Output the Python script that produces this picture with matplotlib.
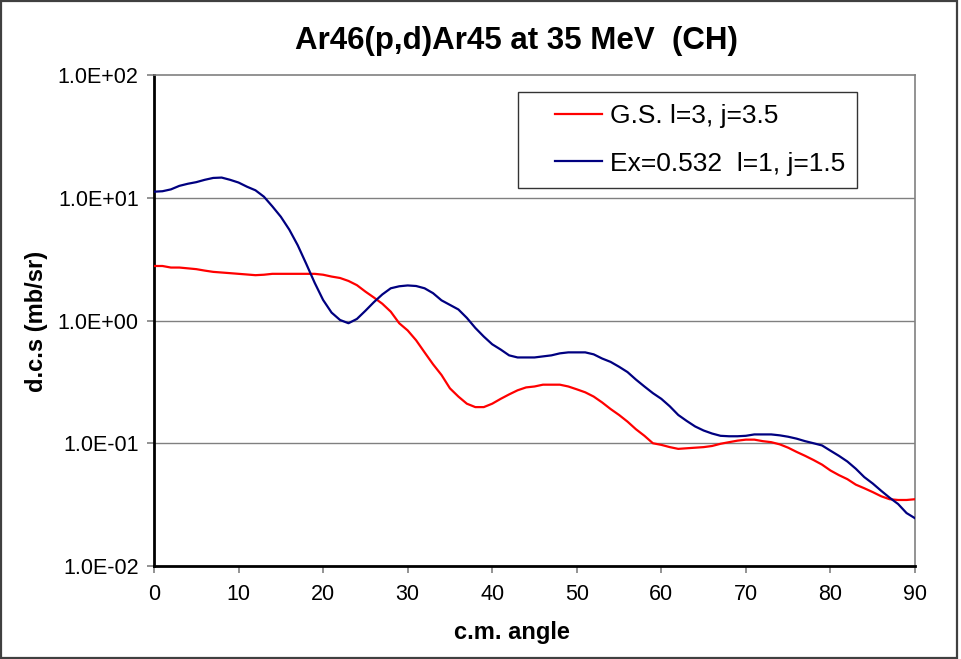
import matplotlib
matplotlib.use("Agg")
import matplotlib.pyplot as plt
from matplotlib.patches import Rectangle
from matplotlib.ticker import FixedLocator, FuncFormatter, NullLocator
from matplotlib.legend_handler import HandlerLine2D

angle = list(range(0, 91))

gs_values = [2.78, 2.78, 2.70, 2.70, 2.66, 2.62, 2.55, 2.49, 2.46, 2.43,
             2.40, 2.37, 2.34, 2.36, 2.40, 2.40, 2.40, 2.40, 2.40, 2.40,
             2.36, 2.28, 2.22, 2.10, 1.94, 1.72, 1.54, 1.37, 1.18, 0.95,
             0.83, 0.69, 0.55, 0.44, 0.36, 0.28, 0.24, 0.21, 0.197, 0.197,
             0.21, 0.23, 0.25, 0.27, 0.285, 0.29, 0.30, 0.30, 0.30, 0.29,
             0.275, 0.26, 0.24, 0.215, 0.19, 0.17, 0.15, 0.13, 0.115, 0.10,
             0.097, 0.093, 0.090, 0.091, 0.092, 0.093, 0.095, 0.099, 0.102, 0.105,
             0.107, 0.107, 0.104, 0.102, 0.098, 0.092, 0.085, 0.079, 0.073, 0.067,
             0.060, 0.055, 0.051, 0.046, 0.043, 0.040, 0.037, 0.035, 0.0345, 0.0345,
             0.035]

ex_values = [11.2, 11.3, 11.7, 12.5, 13.0, 13.4, 14.0, 14.5, 14.6, 14.0,
             13.3, 12.3, 11.5, 10.2, 8.5, 7.0, 5.5, 4.1, 2.9, 2.03,
             1.47, 1.16, 1.01, 0.95, 1.03, 1.20, 1.41, 1.63, 1.83, 1.90,
             1.93, 1.91, 1.83, 1.67, 1.46, 1.34, 1.23, 1.05, 0.87, 0.74,
             0.64, 0.58, 0.52, 0.50, 0.50, 0.50, 0.51, 0.52, 0.54, 0.55,
             0.55, 0.55, 0.53, 0.49, 0.46, 0.42, 0.38, 0.33, 0.29, 0.256,
             0.23, 0.20, 0.17, 0.152, 0.137, 0.127, 0.12, 0.115, 0.114, 0.114,
             0.115, 0.118, 0.118, 0.118, 0.116, 0.113, 0.109, 0.104, 0.100, 0.096,
             0.087, 0.079, 0.071, 0.062, 0.053, 0.047, 0.041, 0.036, 0.032, 0.027,
             0.0245]

series_labels = ["G.S. l=3, j=3.5", "Ex=0.532  l=1, j=1.5"]
x_ticks = [0, 10, 20, 30, 40, 50, 60, 70, 80, 90]
y_ticks = [1e-2, 1e-1, 1e0, 1e1, 1e2]

plt.rcParams['font.family'] = ['Liberation Sans', 'DejaVu Sans']

W, H = 961, 659
fig = plt.figure(figsize=(W/100, H/100), dpi=100)
ax = fig.add_axes([154/W, 1 - 566/H, (915-154)/W, (566-75)/H])

ax.plot(angle, gs_values, color='#FF0000', lw=1.6, label=series_labels[0], zorder=3)
ax.plot(angle, ex_values, color='#000080', lw=1.6, label=series_labels[1], zorder=3)

ax.set_yscale('log')
ax.set_xlim(0, 90)
ax.set_ylim(1e-2, 1e2)
ax.xaxis.set_major_locator(FixedLocator(x_ticks))
ax.yaxis.set_major_locator(FixedLocator(y_ticks))
ax.yaxis.set_minor_locator(NullLocator())
ax.xaxis.set_minor_locator(NullLocator())
ax.yaxis.set_major_formatter(FuncFormatter(lambda v, pos: "%.1E" % v))

for yv in [1e-1, 1e0, 1e1]:
    ax.axhline(yv, color='#808080', lw=1.0, zorder=1)

ax.tick_params(axis='both', direction='out', length=5, width=1.2, color='#808080',
               labelsize=15.5)
ax.tick_params(axis='x', pad=8)
ax.tick_params(axis='y', pad=6)

for s in ['left', 'bottom']:
    ax.spines[s].set_color('black')
    ax.spines[s].set_linewidth(2)
for s in ['top', 'right']:
    ax.spines[s].set_color('#808080')
    ax.spines[s].set_linewidth(1.2)

fig.text(512/W, 1 - 633/H, 'c.m. angle', ha='center', va='center',
         fontsize=17, fontweight='bold')
fig.text(37/W, 1 - 321/H, 'd.c.s (mb/sr)', ha='center', va='center',
         rotation=90, fontsize=17, fontweight='bold')
fig.text(516/W, 1 - 41/H, 'Ar46(p,d)Ar45 at 35 MeV  (CH)',
         ha='center', va='center', fontsize=22.5, fontweight='bold')

leg = ax.legend(loc='upper left', bbox_to_anchor=((518-154)/761, 1 - (92-75)/491),
                frameon=True, fancybox=False, shadow=False, fontsize=19,
                handlelength=2.75, handletextpad=0.28, borderpad=0.45,
                labelspacing=0.9, borderaxespad=0,
                handler_map={matplotlib.lines.Line2D: HandlerLine2D(xpad=0.95)})
leg.get_frame().set_edgecolor('black')
leg.get_frame().set_linewidth(1.0)

fig.patches.append(Rectangle((0.001, 0.001), 0.995, 0.997, transform=fig.transFigure,
                             fill=False, edgecolor='#404040', lw=1.6))

fig.savefig('out.png', dpi=100)
